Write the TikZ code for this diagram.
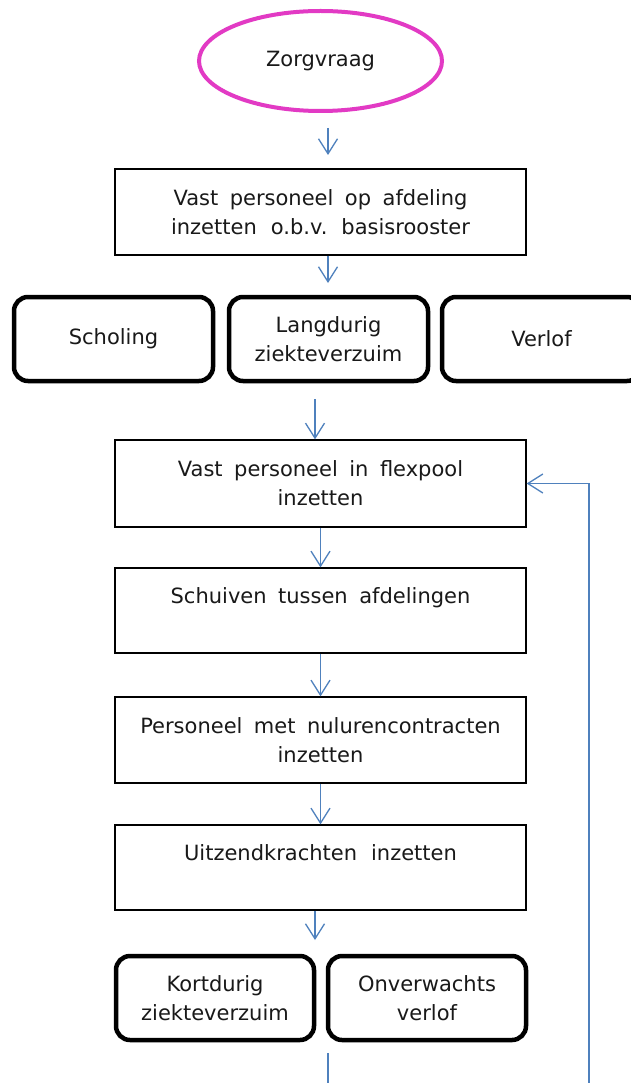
\documentclass[tikz,border=0pt]{standalone}
\usepackage{fontspec}
\setmainfont{DejaVu Sans}
\usetikzlibrary{arrows.meta,shapes.geometric}
\definecolor{mag}{RGB}{226,58,196}
\definecolor{arrblue}{RGB}{79,129,189}
\definecolor{txt}{RGB}{25,25,25}
\newcommand\widesp{\spaceskip=11.5pt\relax}
\begin{document}
\begin{tikzpicture}[x=1pt,y=-1pt,
  every node/.style={font=\fontsize{21}{29}\selectfont, text=txt, inner sep=0pt, execute at begin node=\widesp},
  rbox/.style={draw=black, line width=1.3pt, minimum width=411pt, minimum height=86pt, align=center},
  pill/.style={draw=black, line width=4.5pt, rounded corners=14pt, minimum width=199pt, minimum height=84pt, align=center},
  oval/.style={ellipse, draw=mag, line width=4pt, minimum width=243pt, minimum height=100pt},
  arr/.style={draw=arrblue, line width=1.3pt, -{Straight Barb[length=15pt,width=19pt]}},
  link/.style={draw=arrblue, line width=1.3pt}]
\useasboundingbox (0,0) rectangle (631,1083);
\clip (0,0) rectangle (631,1083);
\fill[white] (0,0) rectangle (631,1083);

\node[oval] (ell) at (320.5,61) {Zorgvraag};
\node[rbox] (box1) at (320.5,212) {Vast personeel op afdeling\\inzetten\hspace{14pt}o.b.v.\hspace{14pt}basisrooster};
\node[pill] (schol) at (113.5,339) {Scholing};
\node[pill] (lang) at (328.5,339) {Langdurig\\ziekteverzuim};
\node[pill] (verl) at (541.5,339) {Verlof};
\node[rbox, minimum height=87pt] (flex) at (320.5,483.5) {Vast personeel in flexpool\\inzetten};
\node[rbox, minimum height=85pt] (schuif) at (320.5,610.5) {Schuiven tussen afdelingen\\\mbox{}};
\node[rbox] (nul) at (320.5,740) {Personeel met nulurencontracten\\inzetten};
\node[rbox, minimum height=85pt] (uitz) at (320.5,867.5) {Uitzendkrachten\hspace{14pt}inzetten\\\mbox{}};
\node[pill, minimum width=198pt] (kort) at (215,998) {Kortdurig\\ziekteverzuim};
\node[pill, minimum width=198pt] (onv) at (427,998) {Onverwachts\\verlof};

\coordinate (a1s) at (328,128);
\coordinate (a1e) at (328,155);
\coordinate (a2e) at (328,283);
\coordinate (a3s) at (315,399);
\coordinate (a7e) at (315,940);
\coordinate (bl0) at (328,1053);
\coordinate (bl1) at (328,1083);
\coordinate (fb0) at (589,1083);

\draw[arr] (a1s) -- (a1e);
\draw[arr] (a2e |- box1.south) -- (a2e);
\draw[arr] (a3s) -- (a3s |- flex.north);
\draw[arr] (flex.south) -- (schuif.north);
\draw[arr] (schuif.south) -- (nul.north);
\draw[arr] (nul.south) -- (uitz.north);
\draw[arr] (a7e |- uitz.south) -- (a7e);
\draw[link] (bl0) -- (bl1);
\draw[arr] (fb0) |- (flex.east);
\end{tikzpicture}
\end{document}
